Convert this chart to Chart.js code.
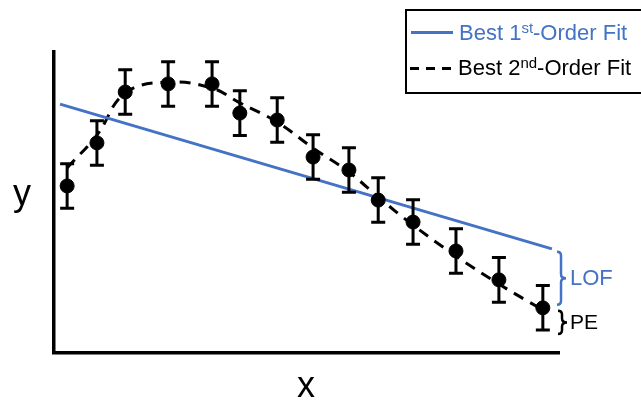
<!DOCTYPE html>
<html>
<head>
<meta charset="utf-8">
<script src="https://cdn.jsdelivr.net/npm/chart.js@4.4.1/dist/chart.umd.min.js"></script>
<style>
  body { margin: 0; background: #fff; overflow: hidden; }
  #wrap { position: relative; width: 641px; height: 400px; font-family: "Liberation Sans", Arial, sans-serif; }
  #legend {
    position: absolute; left: 405px; top: 9px; width: 260px; height: 81px;
    border: 2px solid #000; box-sizing: content-box;
  }
  .row { position: absolute; left: 0; white-space: nowrap; font-size: 22px; line-height: 24px; }
  .row sup { font-size: 15px; vertical-align: 0; position: relative; top: -7px; }
  .solid { position: absolute; left: 4px; width: 42px; height: 3px; background: #4472c4; }
  .dash { position: absolute; left: 3px; width: 47px; height: 3px;
    background: repeating-linear-gradient(90deg, #000 0 9px, transparent 9px 16px); }
  .axlab { position: absolute; font-size: 36px; color: #000; }
</style>
</head>
<body>
<div id="wrap">
  <canvas id="fitChart"></canvas>
  <div id="legend">
    <div class="solid" style="top:20px"></div>
    <div class="row" style="left:52px; top:10px; color:#4472c4">Best 1<sup>st</sup>-Order Fit</div>
    <div class="dash" style="top:56px"></div>
    <div class="row" style="left:51px; top:45px; color:#000">Best 2<sup>nd</sup>-Order Fit</div>
  </div>
  <div class="axlab" style="left:13px; top:172px">y</div>
  <div class="axlab" style="left:297px; top:364px">x</div>
</div>
<script>
  // measured data (arbitrary units, axes 0-100)
  const xVals = [2.6, 8.5, 14.1, 22.6, 31.3, 36.8, 44.2, 51.3, 58.4, 64.2, 71.1, 79.6, 88.1, 96.8];
  const yVals = [55.5, 69.8, 86.7, 89.4, 89.4, 79.7, 77.4, 65.1, 60.8, 50.8, 43.5, 33.9, 24.3, 15.0];
  const yErr = [7.4, 7.4, 7.4, 7.4, 7.4, 7.4, 7.4, 7.4, 7.4, 7.4, 7.4, 7.4, 7.4, 7.4];
  // best 1st order fit (straight line)
  const fit1X = [1.2, 98.6];
  const fit1Y = [82.7, 34.6];
  // best 2nd order fit (dashed curve)
  const fit2Y = [61.5, 72.4, 86.4, 90.0, 88.0, 83.1, 76.7, 68.1, 60.1, 51.8, 42.5, 32.2, 22.9, 14.3];

  const blue = '#4472c4';

  const errorBars = {
    id: 'errorBars',
    afterDatasetsDraw(chart) {
      const ctx = chart.ctx, xs = chart.scales.x, ys = chart.scales.y;
      ctx.save();
      ctx.strokeStyle = '#000';
      ctx.lineWidth = 3;
      xVals.forEach((x, i) => {
        const px = xs.getPixelForValue(x);
        const top = ys.getPixelForValue(yVals[i] + yErr[i]);
        const bot = ys.getPixelForValue(yVals[i] - yErr[i]);
        ctx.beginPath();
        ctx.moveTo(px, top); ctx.lineTo(px, bot);
        ctx.moveTo(px - 7, top); ctx.lineTo(px + 7, top);
        ctx.moveTo(px - 7, bot); ctx.lineTo(px + 7, bot);
        ctx.stroke();
      });
      ctx.restore();
    }
  };

  function brace(ctx, x, top, bot) {
    const mid = (top + bot) / 2;
    ctx.beginPath();
    ctx.moveTo(x - 4, top);
    ctx.quadraticCurveTo(x, top, x, top + 4);
    ctx.lineTo(x, mid - 4);
    ctx.quadraticCurveTo(x, mid, x + 5, mid);
    ctx.quadraticCurveTo(x, mid, x, mid + 4);
    ctx.lineTo(x, bot - 4);
    ctx.quadraticCurveTo(x, bot, x - 4, bot);
    ctx.stroke();
  }

  const braces = {
    id: 'braces',
    afterDraw(chart) {
      const ctx = chart.ctx, xs = chart.scales.x, ys = chart.scales.y;
      const n = yVals.length - 1;
      const bx = xs.getPixelForValue(100.4);
      const lofTop = ys.getPixelForValue(fit1Y[1]) + 3;
      const lofBot = ys.getPixelForValue(yVals[n]) - 3;
      const peTop = ys.getPixelForValue(yVals[n]) + 3;
      const peBot = ys.getPixelForValue(yVals[n] - yErr[n]) + 4;
      ctx.save();
      ctx.lineWidth = 2.5;
      ctx.strokeStyle = blue;
      brace(ctx, bx, lofTop, lofBot);
      ctx.strokeStyle = '#000';
      brace(ctx, bx + 1, peTop, peBot);
      ctx.textBaseline = 'middle';
      ctx.font = '22px "Liberation Sans", Arial, sans-serif';
      ctx.fillStyle = blue;
      ctx.fillText('LOF', bx + 9, (lofTop + lofBot) / 2 + 1);
      ctx.font = '21px "Liberation Sans", Arial, sans-serif';
      ctx.fillStyle = '#000';
      ctx.fillText('PE', bx + 9, (peTop + peBot) / 2 + 1);
      ctx.restore();
    }
  };

  const fitChart = new Chart(document.getElementById('fitChart'), {
    type: 'scatter',
    data: {
      datasets: [{
        label: 'Data',
        data: xVals.map((x, i) => ({ x: x, y: yVals[i] })),
        backgroundColor: '#000',
        borderColor: '#000',
        pointRadius: 7,
        pointHoverRadius: 7
      }, {
        label: 'Best 1st-Order Fit',
        data: fit1X.map((x, i) => ({ x: x, y: fit1Y[i] })),
        showLine: true,
        borderColor: blue,
        borderWidth: 3,
        pointRadius: 0
      }, {
        label: 'Best 2nd-Order Fit',
        data: xVals.map((x, i) => ({ x: x, y: fit2Y[i] })),
        showLine: true,
        borderColor: '#000',
        borderWidth: 3,
        borderDash: [11, 8],
        tension: 0.4,
        pointRadius: 0
      }]
    },
    options: {
      responsive: true,
      maintainAspectRatio: false,
      animation: false,
      layout: { padding: { left: 54, top: 52, right: 82, bottom: 47 } },
      plugins: {
        legend: { display: false },
        tooltip: { enabled: false }
      },
      scales: {
        x: {
          min: 0, max: 100,
          grid: { display: false },
          ticks: { display: false },
          border: { color: '#000', width: 3.5 },
          afterFit(s) { s.height = 0; }
        },
        y: {
          min: 0, max: 100,
          grid: { display: false },
          ticks: { display: false },
          border: { color: '#000', width: 3.5 },
          afterFit(s) { s.width = 0; }
        }
      }
    },
    plugins: [errorBars, braces]
  });
</script>
</body>
</html>
